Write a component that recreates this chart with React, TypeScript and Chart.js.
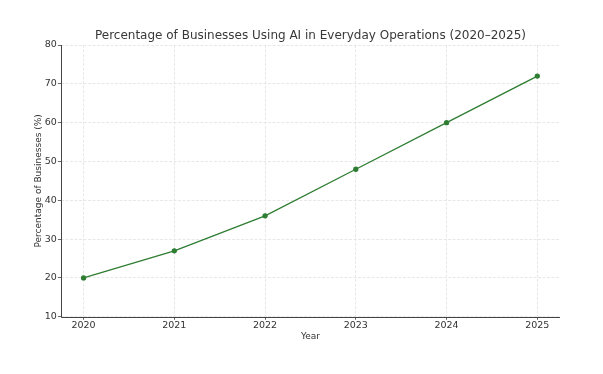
import React, { useEffect, useRef } from "react";
import { Chart, registerables } from "chart.js";

Chart.register(...registerables);

const years = [2020, 2021, 2022, 2023, 2024, 2025];
const percentages = [20, 27, 36, 48, 60, 72];
const yTicks = [10, 20, 30, 40, 50, 60, 70, 80];
const titleText = "Percentage of Businesses Using AI in Everyday Operations (2020–2025)";

const FONT = "'DejaVu Sans', sans-serif";

export default function App() {
  const ref = useRef<HTMLCanvasElement | null>(null);
  useEffect(() => {
    if (!ref.current) return;
    const chart = new Chart(ref.current, {
      type: "line",
      data: {
        datasets: [
          {
            data: years.map((y, i) => ({ x: y, y: percentages[i] })),
            borderColor: "#2e7d32",
            backgroundColor: "#2e7d32",
            borderWidth: 1.3,
            pointRadius: 2,
            pointHoverRadius: 2,
            tension: 0,
          },
        ],
      },
      options: {
        animation: false,
        responsive: false,
        maintainAspectRatio: false,
        layout: { padding: { left: 33, right: 43, top: 45, bottom: 32 } },
        plugins: {
          legend: { display: false },
          tooltip: { enabled: false },
          title: { display: false },
        },
        scales: {
          x: {
            type: "linear",
            min: 2019.75,
            max: 2025.25,
            afterBuildTicks: (scale: any) => {
              scale.ticks = years.map((v) => ({ value: v }));
            },
            ticks: {
              color: "#333333",
              font: { family: FONT, size: 9.5 },
              padding: 0,
              maxRotation: 0,
              callback: (v: any) => String(v),
            },
            grid: {
              color: "#e2e2e2",
              lineWidth: 0.8,
              tickColor: "#444444",
              tickLength: 3,
            },
            border: { display: false, dash: [3, 1.5] },
            title: {
              display: true,
              text: "Year",
              color: "#333333",
              font: { family: FONT, size: 9 },
              padding: { top: 0, bottom: 0 },
            },
          },
          y: {
            type: "linear",
            min: 10,
            max: 80,
            afterBuildTicks: (scale: any) => {
              scale.ticks = yTicks.map((v) => ({ value: v }));
            },
            ticks: {
              color: "#333333",
              font: { family: FONT, size: 9.5 },
              padding: 1,
            },
            grid: {
              color: "#e2e2e2",
              lineWidth: 0.8,
              tickColor: "#444444",
              tickLength: 3,
            },
            border: { display: false, dash: [3, 1.5] },
            title: {
              display: true,
              text: "Percentage of Businesses (%)",
              color: "#333333",
              font: { family: FONT, size: 9 },
              padding: { top: 0, bottom: 0 },
            },
          },
        },
      },
      plugins: [
        {
          id: "axisLinesAndTitle",
          afterDatasetsDraw: (c: any) => {
            const { ctx, chartArea } = c;
            ctx.save();
            ctx.strokeStyle = "#444444";
            ctx.lineWidth = 1;
            ctx.setLineDash([]);
            ctx.beginPath();
            ctx.moveTo(Math.round(chartArea.left) + 0.5, chartArea.top);
            ctx.lineTo(Math.round(chartArea.left) + 0.5, Math.round(chartArea.bottom) + 0.5);
            ctx.lineTo(chartArea.right, Math.round(chartArea.bottom) + 0.5);
            ctx.stroke();
            ctx.fillStyle = "#383838";
            ctx.font = `12px ${FONT}`;
            ctx.textAlign = "center";
            ctx.textBaseline = "middle";
            ctx.fillText(titleText, (chartArea.left + chartArea.right) / 2, 36);
            ctx.restore();
          },
        },
      ],
    } as any);
    return () => chart.destroy();
  }, []);
  return (
    <div style={{ position: "fixed", left: 0, top: 0, width: 603, height: 374, background: "#fff" }}>
      <canvas ref={ref} width={603} height={374} />
    </div>
  );
}
